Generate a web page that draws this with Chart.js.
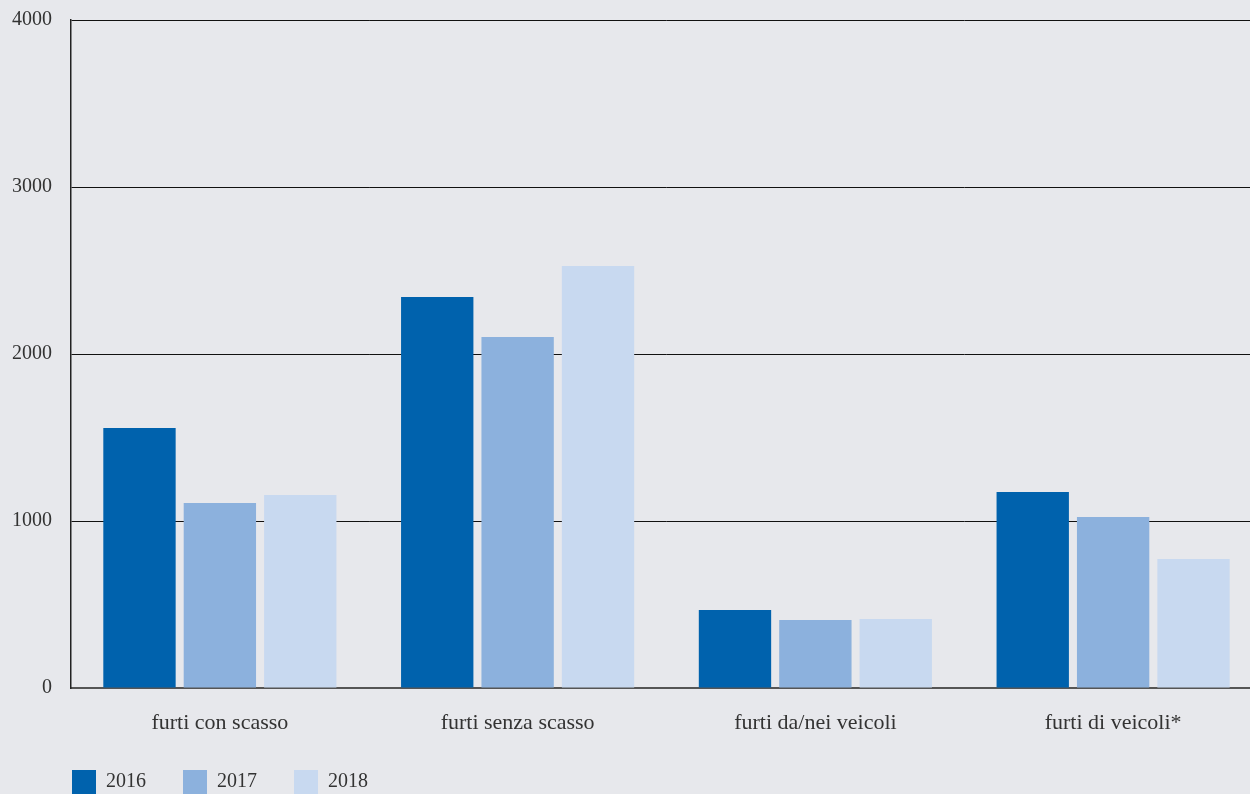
<!DOCTYPE html>
<html>
<head>
<meta charset="utf-8">
<script src="https://cdn.jsdelivr.net/npm/chart.js@4/dist/chart.umd.min.js"></script>
<style>
    html, body { margin: 0; padding: 0; background: #e7e8ec; overflow: hidden; }
    #wrap { width: 1262px; height: 804px; position: relative; }
</style>
</head>
<body>
<div id="wrap"><canvas id="myChart"></canvas></div>
<script>
// categorie e valori per anno
const categories = ['furti con scasso', 'furti senza scasso', 'furti da/nei veicoli', 'furti di veicoli*']
const years = ['2016', '2017', '2018']
const values2016 = [1557, 2341, 467, 1174]
const values2017 = [1108, 2102, 407, 1024]
const values2018 = [1156, 2527, 413, 772]
const yTicks = [0, 1000, 2000, 3000, 4000]

const colors = ['#0062ad', '#8cb1dd', '#c8d9f0']
const textColor = '#333'
const fontFamily = "'Liberation Serif', serif"

// sposta la legenda allineata al bordo sinistro dell'asse
const legendShift = {
    id: 'legendShift',
    afterLayout(chart) {
        const lg = chart.legend
        if (lg) {
            lg.left -= 36
            lg.right -= 36
        }
    }
}

const showChart = () => {
    const series = [values2016, values2017, values2018]
    let datasets = []
    for (let i = 0; i < years.length; i++) {
        datasets.push({
            label: years[i],
            data: series[i],
            backgroundColor: colors[i],
            borderWidth: 0,
            barPercentage: 0.9,
            categoryPercentage: 0.81,
        })
    }

    const ctx = document.getElementById('myChart').getContext('2d')
    new Chart(ctx, {
        type: 'bar',
        data: {
            labels: categories,
            datasets: datasets
        },
        plugins: [legendShift],
        options: {
            responsive: true,
            maintainAspectRatio: false,
            animation: false,
            layout: {
                padding: { top: 20, right: 0, left: 0, bottom: 0 }
            },
            plugins: {
                tooltip: { enabled: false },
                legend: {
                    position: 'bottom',
                    align: 'start',
                    fullSize: false,
                    labels: {
                        boxWidth: 24,
                        boxHeight: 24,
                        padding: 37,
                        color: textColor,
                        font: { family: fontFamily, size: 20 }
                    }
                }
            },
            scales: {
                x: {
                    afterFit: (scale) => {
                        scale.height = 45
                    },
                    grid: { display: false, drawTicks: false },
                    border: { color: '#555', width: 2 },
                    ticks: {
                        color: textColor,
                        padding: 22,
                        font: { family: fontFamily, size: 22 }
                    }
                },
                y: {
                    min: 0,
                    max: 4000,
                    z: 1,
                    afterBuildTicks: (scale) => {
                        scale.ticks = yTicks.map(v => ({ value: v }))
                    },
                    afterFit: (scale) => {
                        scale.width = 71
                        scale.paddingTop = 0
                        scale.paddingBottom = 0
                    },
                    grid: { color: '#111', lineWidth: 1, drawTicks: false },
                    border: { color: '#222', width: 1.5 },
                    ticks: {
                        color: textColor,
                        padding: 19,
                        font: { family: fontFamily, size: 20 },
                        callback: (value) => String(value)
                    }
                }
            }
        }
    })
}

window.onload = function () {
    showChart()
}
</script>
</body>
</html>
